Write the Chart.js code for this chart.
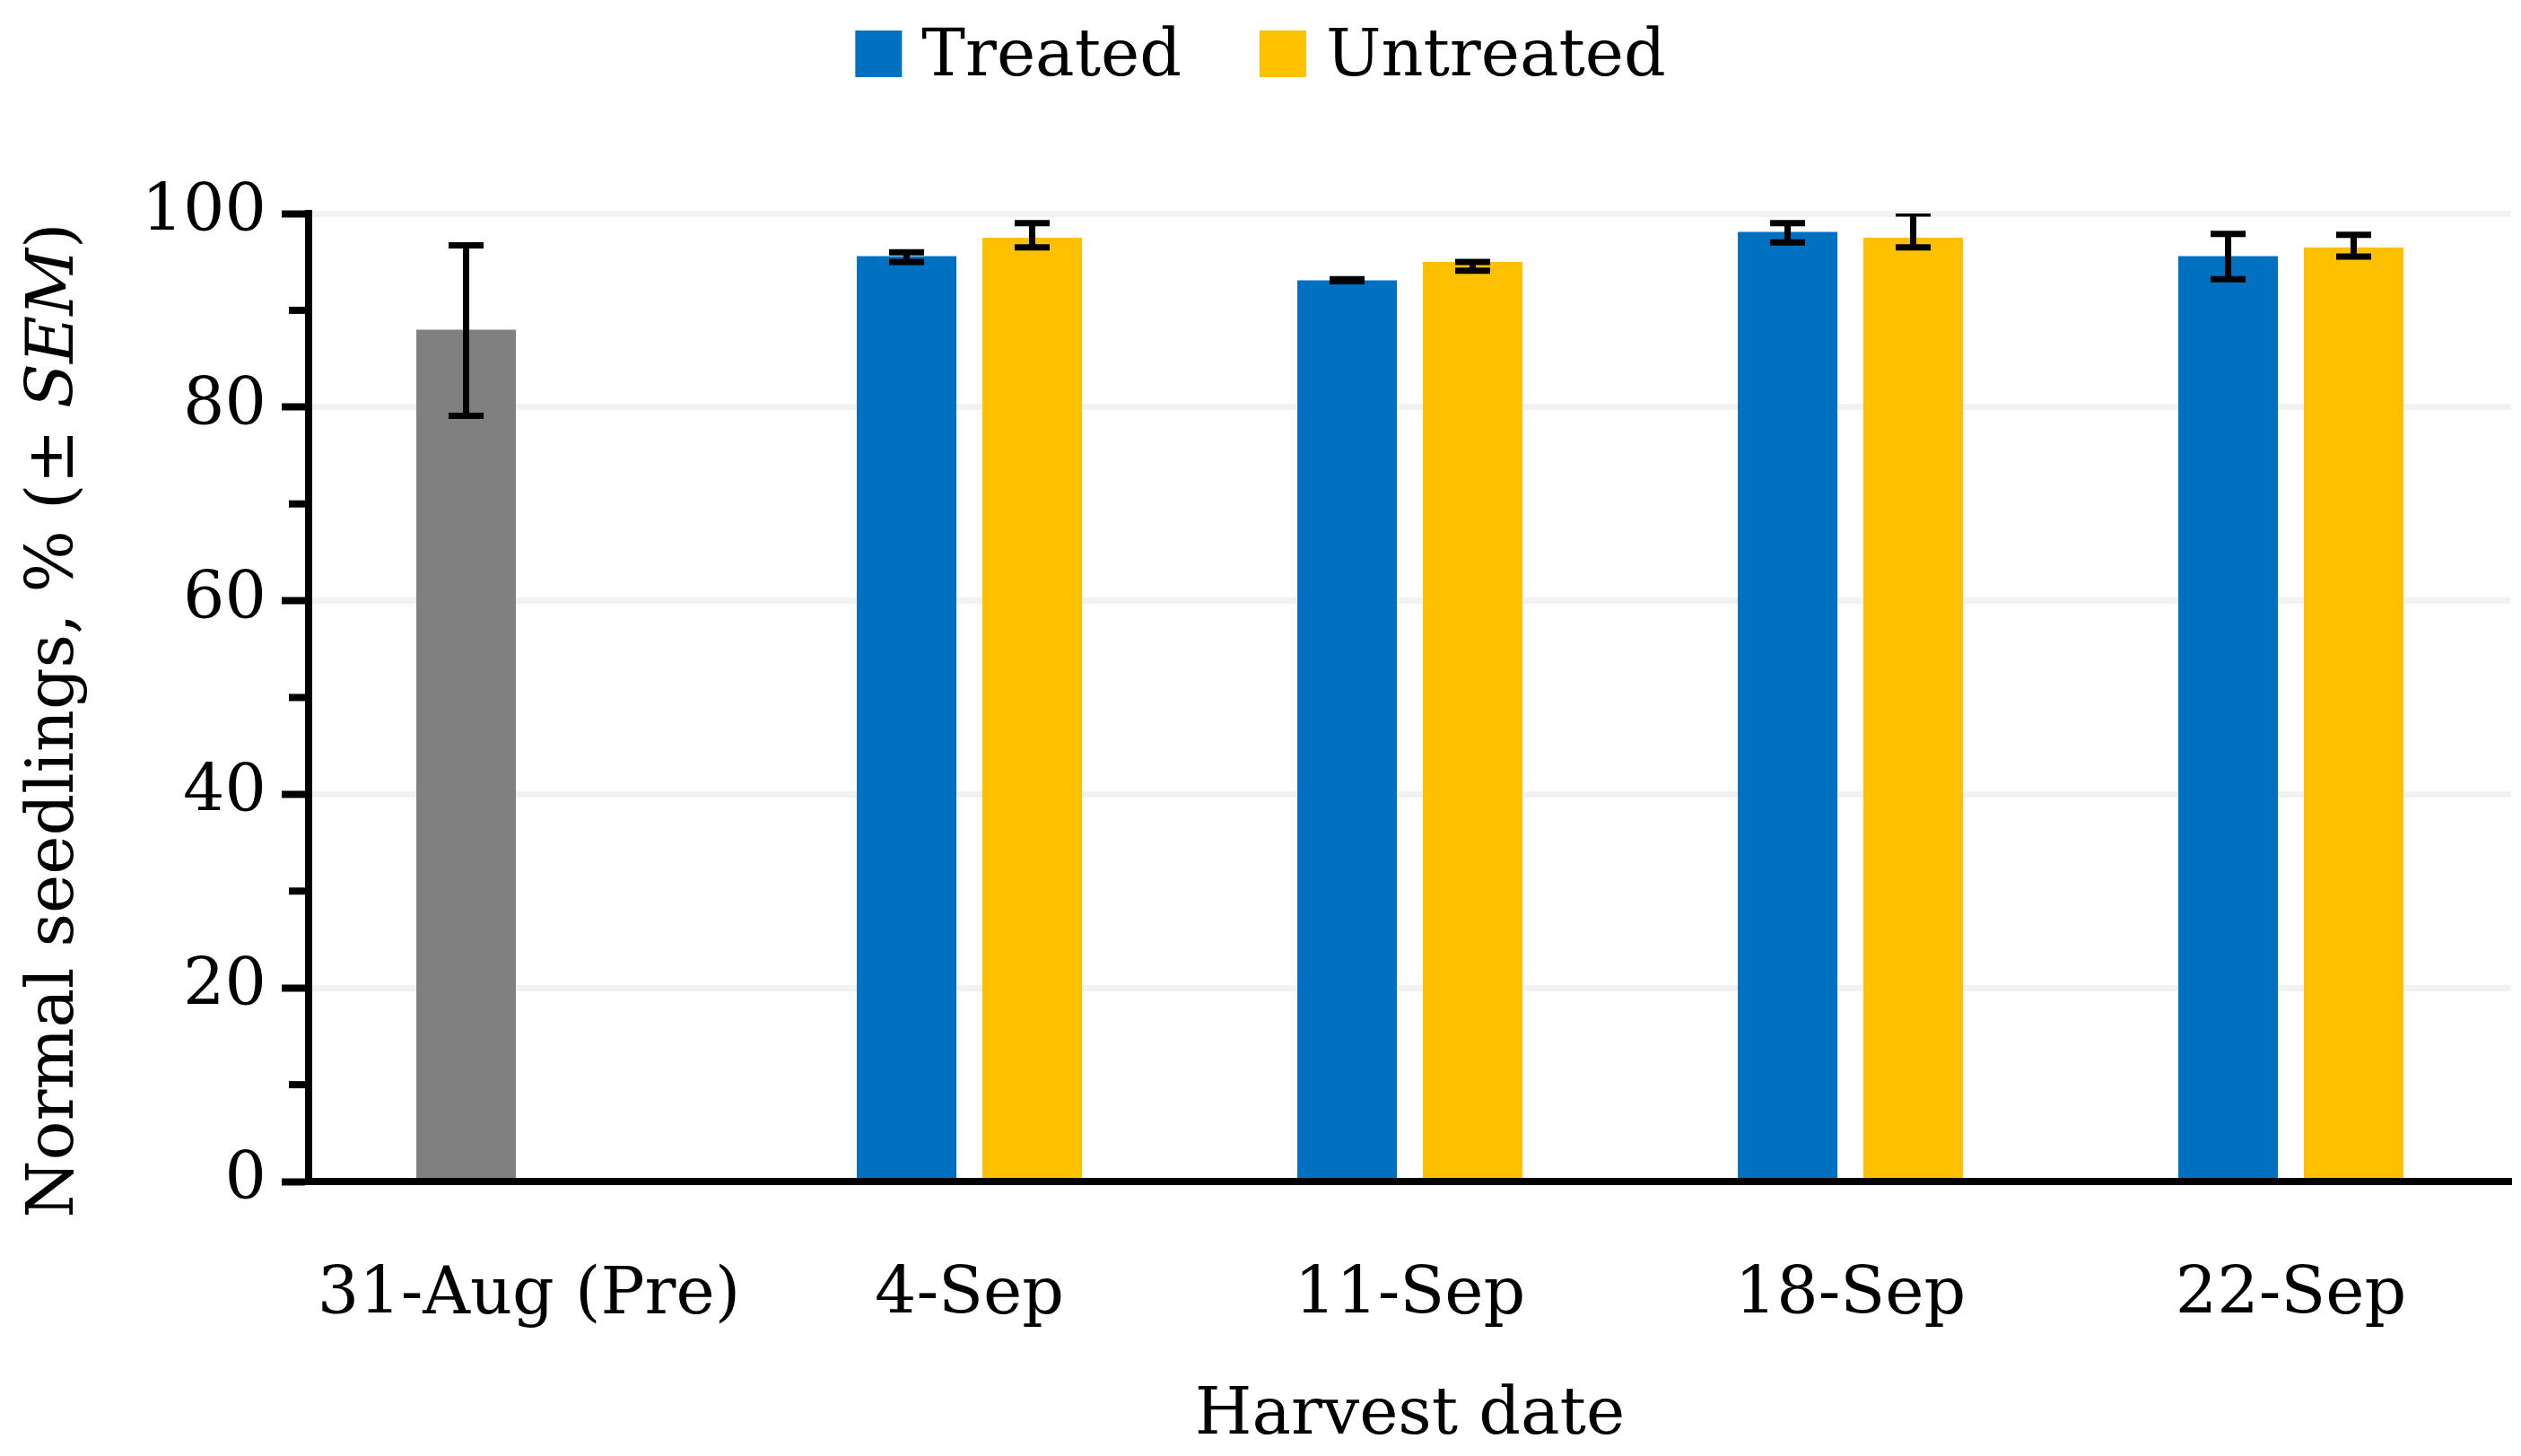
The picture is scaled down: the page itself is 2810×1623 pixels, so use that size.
<!DOCTYPE html>
<html>
<head>
<meta charset="utf-8">
<title>Normal seedlings by harvest date</title>
<script src="https://cdn.jsdelivr.net/npm/chart.js@4.4.1/dist/chart.umd.min.js"></script>
<style>
  html, body { margin: 0; padding: 0; background: #fff; }
  canvas { display: block; }
</style>
</head>
<body>
<canvas id="myChart" width="2810" height="1623"></canvas>
<script>
// values
const harvestDates = ['31-Aug (Pre)', '4-Sep', '11-Sep', '18-Sep', '22-Sep'];
const treated = [88.0, 95.6, 93.1, 98.1, 95.6];
const treatedErrUp = [8.7, 0.4, 0.1, 0.9, 2.3];
const treatedErrDown = [8.9, 0.6, 0.1, 1.1, 2.4];
const untreated = [null, 97.5, 95.0, 97.5, 96.5];
const untreatedErrUp = [null, 1.5, 0.0, 2.5, 1.3];
const untreatedErrDown = [null, 1.0, 0.9, 1.0, 0.95];
const yTicks = [0, 20, 40, 60, 80, 100];
const yMinorTicks = [10, 30, 50, 70, 90];
const seriesNames = ['Treated', 'Untreated'];

const FONT = '"DejaVu Serif", "Liberation Serif", serif';
const FONT_SIZE = 73;
const BLUE = '#0070C0', GOLD = '#FFC000', GREY = '#808080';
const legendColors = [BLUE, GOLD];

// error bars drawn from the library's own scale
const errorBars = {
    id: 'errorBars',
    afterDatasetsDraw(chart) {
        const {ctx, chartArea, scales: {y}} = chart;
        ctx.save();
        ctx.beginPath();
        ctx.rect(chartArea.left, chartArea.top, chartArea.right - chartArea.left, chartArea.bottom - chartArea.top);
        ctx.clip();
        ctx.strokeStyle = '#000';
        ctx.lineWidth = 7;
        chart.data.datasets.forEach((ds, i) => {
            chart.getDatasetMeta(i).data.forEach((bar, j) => {
                const v = ds.data[j];
                if (v == null) return;
                const top = y.getPixelForValue(v + ds.errUp[j]);
                const bottom = y.getPixelForValue(v - ds.errDown[j]);
                ctx.beginPath();
                ctx.moveTo(bar.x, top); ctx.lineTo(bar.x, bottom);
                ctx.moveTo(bar.x - 19.5, top); ctx.lineTo(bar.x + 19.5, top);
                ctx.moveTo(bar.x - 19.5, bottom); ctx.lineTo(bar.x + 19.5, bottom);
                ctx.stroke();
            });
        });
        ctx.restore();
    }
};

// minor ticks, legend and the mixed-style y title
const decorations = {
    id: 'decorations',
    afterDraw(chart) {
        const {ctx, chartArea, scales: {y}} = chart;
        ctx.save();
        ctx.strokeStyle = '#000';
        ctx.lineWidth = 8;
        yMinorTicks.forEach(v => {
            const py = y.getPixelForValue(v);
            ctx.beginPath();
            ctx.moveTo(chartArea.left - 22, py);
            ctx.lineTo(chartArea.left, py);
            ctx.stroke();
        });

        ctx.font = `${FONT_SIZE}px ${FONT}`;
        ctx.textBaseline = 'alphabetic';
        ctx.textAlign = 'left';
        const box = 52, boxGap = 22, itemGap = 87;
        const widths = seriesNames.map(n => ctx.measureText(n).width);
        const total = widths.reduce((a, w) => a + box + boxGap + w, 0) + itemGap * (seriesNames.length - 1);
        let x = (chart.width - total) / 2;
        seriesNames.forEach((name, i) => {
            ctx.fillStyle = legendColors[i];
            ctx.fillRect(x, 34, box, box);
            ctx.fillStyle = '#000';
            ctx.fillText(name, x + box + boxGap, 84);
            x += box + boxGap + widths[i] + itemGap;
        });

        const parts = [['Normal seedlings, % (± ', ''], ['SEM', 'italic '], [')', '']];
        const partWidths = parts.map(([t, s]) => {
            ctx.font = `${s}${FONT_SIZE}px ${FONT}`;
            return ctx.measureText(t).width;
        });
        const titleWidth = partWidths.reduce((a, b) => a + b, 0);
        ctx.translate(81, 803);
        ctx.rotate(-Math.PI / 2);
        let tx = -titleWidth / 2;
        parts.forEach(([t, s], i) => {
            ctx.font = `${s}${FONT_SIZE}px ${FONT}`;
            ctx.fillText(t, tx, 0);
            tx += partWidths[i];
        });
        ctx.restore();
    }
};

const ctx = document.getElementById('myChart').getContext('2d');
new Chart(ctx, {
    type: 'bar',
    data: {
        labels: harvestDates,
        datasets: [{
            label: seriesNames[0],
            data: treated,
            errUp: treatedErrUp,
            errDown: treatedErrDown,
            backgroundColor: harvestDates.map((_, i) => i === 0 ? GREY : BLUE)
        }, {
            label: seriesNames[1],
            data: untreated,
            errUp: untreatedErrUp,
            errDown: untreatedErrDown,
            backgroundColor: GOLD
        }]
    },
    options: {
        responsive: false,
        animation: false,
        devicePixelRatio: 1,
        categoryPercentage: 0.57,
        barPercentage: 0.793,
        layout: { padding: { top: 238, right: 11, bottom: 0, left: 0 } },
        plugins: {
            legend: { display: false },
            tooltip: { enabled: false }
        },
        scales: {
            x: {
                grid: { display: false, drawTicks: false },
                border: { display: true, color: '#000', width: 8, z: 1 },
                ticks: { color: '#000', padding: 84, font: { family: FONT, size: FONT_SIZE }, maxRotation: 0 },
                title: {
                    display: true,
                    text: 'Harvest date',
                    color: '#000',
                    padding: { top: 0, bottom: 0 },
                    font: { family: FONT, size: FONT_SIZE }
                },
                afterFit: s => { s.height = 306; }
            },
            y: {
                min: 0,
                max: 100,
                afterBuildTicks: s => { s.ticks = yTicks.map(v => ({ value: v })); },
                grid: {
                    color: c => (c.tick && c.tick.value === 0) ? 'rgba(0,0,0,0)' : '#F2F2F2',
                    lineWidth: 7,
                    tickColor: '#000',
                    tickLength: 30,
                    tickWidth: 8
                },
                border: { display: true, color: '#000', width: 8, z: 1 },
                ticks: { color: '#000', padding: 17, font: { family: FONT, size: FONT_SIZE } },
                afterFit: s => { s.width = 344; }
            }
        }
    },
    plugins: [errorBars, decorations]
});
</script>
</body>
</html>
